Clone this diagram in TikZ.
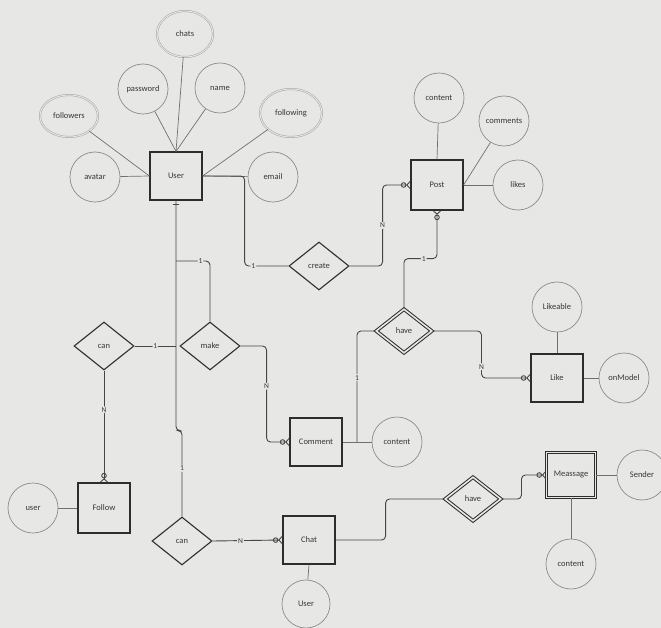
\documentclass[tikz,border=0pt]{standalone}
\usepackage{fontspec}
\setmainfont{Carlito}
\usetikzlibrary{arrows.meta,calc,shapes.geometric}
\definecolor{paper}{RGB}{231,231,229}
\definecolor{inkdark}{RGB}{45,45,45}
\definecolor{inkline}{RGB}{70,70,70}
\definecolor{inklight}{RGB}{140,140,140}
\definecolor{inktext}{RGB}{55,55,55}
\tikzset{
    entity/.style={draw=inkdark,line width=1.2pt,minimum width=52pt,minimum height=48pt,inner sep=0pt},
    weakentity/.style={entity,double=paper,double distance=1.6pt,line width=1pt,minimum width=49pt,minimum height=45pt},
    attr/.style={circle,draw=inklight,line width=0.7pt,minimum size=50pt,inner sep=0pt},
    multiattr/.style={ellipse,draw=inklight!80,line width=0.5pt,double=paper,double distance=1pt,inner sep=0pt},
    relation/.style={diamond,draw=inkdark,line width=1.1pt,minimum width=60pt,minimum height=48pt,inner sep=0pt},
    weakrel/.style={relation,double=paper,double distance=1.6pt,line width=1pt,minimum width=56pt,minimum height=44pt},
    attrline/.style={draw=inklight!80!black,line width=0.7pt},
    conn/.style={draw=inkline,line width=0.9pt,rounded corners=4pt},
    zmany/.style={-{Circle[open,length=5.5pt,width=5.5pt]Straight Barb[reversed,length=3pt,width=7pt]}},
    card/.style={fill=paper,inner sep=1pt,font=\fontsize{7.5}{8}\selectfont}
}

\begin{document}
\begin{tikzpicture}[x=1pt,y=-1pt,every node/.style={text=inktext,font=\fontsize{8.5}{9}\selectfont}]
    % Paper
    \fill[paper] (0,0) rectangle (661,628);
    \useasboundingbox (0,0) rectangle (661,628);
    % Entities
    \node[entity] (user) at (176,176) {User};
    \node[entity,minimum height=50pt] (post) at (437,185) {Post};
    \node[entity] (like) at (557,378) {Like};
    \node[entity] (comment) at (316,442) {Comment};
    \node[entity,minimum height=50pt] (follow) at (104,508) {Follow};
    \node[entity] (chat) at (309,540) {Chat};
    \node[weakentity] (message) at (571,475) {Meassage};
    % User attributes
    \node[multiattr,minimum width=56pt,minimum height=46pt] (chats) at (185,34) {chats};
    \node[attr] (password) at (143,89) {password};
    \node[attr] (uname) at (220,88) {name};
    \node[multiattr,minimum width=58pt,minimum height=42pt] (followers) at (69,116) {followers};
    \node[multiattr,minimum width=62pt,minimum height=48pt] (following) at (291,113) {following};
    \node[attr] (avatar) at (95,177) {avatar};
    \node[attr] (email) at (273,177) {email};
    % Other attributes
    \node[attr] (pContent) at (439,98) {content};
    \node[attr] (pComments) at (504,121) {comments};
    \node[attr] (pLikes) at (518,185) {likes};
    \node[attr] (likeable) at (557,307) {Likeable};
    \node[attr] (onModel) at (624,378) {onModel};
    \node[attr] (cContent) at (397,442) {content};
    \node[attr] (fUser) at (33,508) {user};
    \node[attr,minimum size=48pt] (chUser) at (306,604) {User};
    \node[attr] (sender) at (642,475) {Sender};
    \node[attr] (mContent) at (571,564) {content};
    % Relations
    \node[relation] (create) at (319,266) {create};
    \node[relation] (make) at (210,346) {make};
    \node[relation] (canFollow) at (104,346) {can};
    \node[relation] (canChat) at (182,541) {can};
    \node[weakrel] (haveLike) at (404,331) {have};
    \node[weakrel] (haveMsg) at (473,499) {have};
    % Junctions
    \coordinate (busMake) at (176,261);
    \coordinate (busCan) at (176,346);
    \coordinate (cJoin) at (357,442);
    % Attribute lines
    \draw[attrline] (followers) -- (user.west);
    \draw[attrline] (avatar) -- (user.west);
    \draw[attrline] (password) -- (user.north);
    \draw[attrline] (chats) -- (user.north);
    \draw[attrline] (uname) -- (user.north);
    \draw[attrline] (following) -- (user.east);
    \draw[attrline] (user.east) -- (email);
    \draw[attrline] (pContent) -- (post.north);
    \draw[attrline] (pComments) -- (post.east);
    \draw[attrline] (post.east) -- (pLikes);
    \draw[attrline] (likeable) -- (like.north);
    \draw[attrline] (like.east) -- (onModel);
    \draw[attrline] (comment.east) -- (cContent);
    \draw[attrline] (fUser) -- (follow.west);
    \draw[attrline] (chat.south) -- (chUser);
    \draw[attrline] (message.east) -- (sender);
    \draw[attrline] (message.south) -- (mContent);
    % User bus
    \draw[conn] (user.south) -- ++(0,230) -| node[card,pos=0.72]{1} (canChat.north);
    \draw[conn] ($(user.south)+(-3,4)$) -- ++(6,0);
    \draw[conn] (busMake) -| node[card,pos=0.36]{1} (make.north);
    \draw[conn] (canFollow.east) -- node[card]{1} (busCan);
    % User creates Post
    \draw[conn] (user.east) -- ++(42,0) |- node[card,pos=0.6]{1} (create.west);
    \draw[conn,zmany] (create.east) -- ++(33,0) |- node[card,pos=0.25]{N} (post.west);
    % Post has Like
    \draw[conn,zmany] (haveLike.north) |- node[card,pos=0.8]{1} ($(post.south)+(0,48)$) -- (post.south);
    \draw[conn,zmany] (haveLike.east) -- ++(49,0) |- node[card,pos=0.38]{N} (like.west);
    \draw[conn] (haveLike.west) -| node[card,pos=0.71]{1} (cJoin);
    % User makes Comment
    \draw[conn,zmany] (make.east) -- ++(26,0) |- node[card,pos=0.21]{N} (comment.west);
    % Follow and Chat
    \draw[conn,zmany] (canFollow.south) -- node[card,pos=0.35]{N} (follow.north);
    \draw[conn,zmany] (canChat.east) -- node[card,pos=0.4]{N} (chat.west);
    \draw[conn] (chat.east) -- ++(50,0) |- (haveMsg.west);
    \draw[conn,zmany] (haveMsg.east) -- ++(20,0) |- (message.west);
\end{tikzpicture}
\end{document}
